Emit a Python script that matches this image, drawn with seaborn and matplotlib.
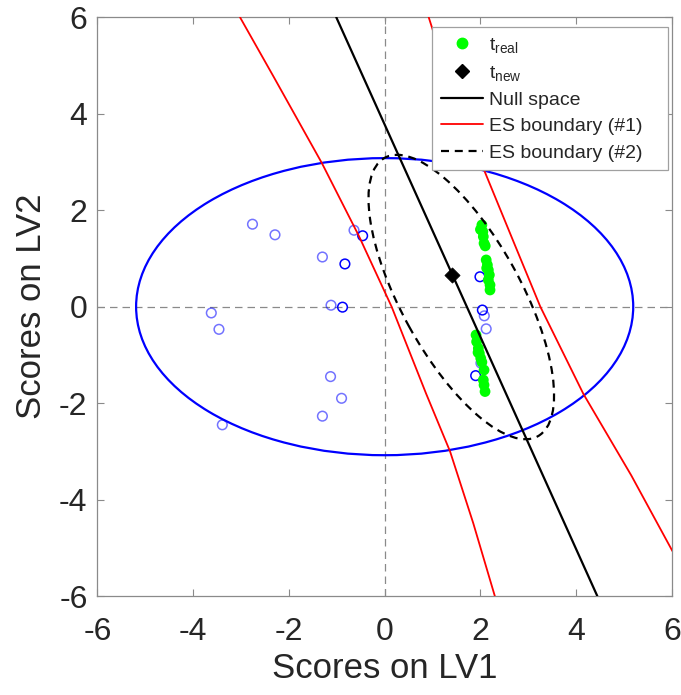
import numpy as np
import pandas as pd
import matplotlib
matplotlib.use("Agg")
import matplotlib.pyplot as plt
import seaborn as sns
from matplotlib.patches import Ellipse
from matplotlib.lines import Line2D

# ---------------- data ----------------
real_x = [2.03, 2.05, 2.06, 2.075, 2.00, 2.10, 2.12, 2.145, 2.165, 2.186, 2.165, 2.20, 2.20, 2.13,
          1.908, 1.92, 1.956, 1.977, 2.006, 2.075, 2.06, 2.075, 2.096, 1.95, 2.03]
real_y = [1.695, 1.556, 1.452, 1.315, 1.60, 1.26, 0.969, 0.865, 0.761, 0.658, 0.554, 0.45, 0.346, 0.80,
          -0.587, -0.726, -0.863, -0.967, -1.07, -1.313, -1.52, -1.624, -1.76, -0.95, -1.15]

new_x = [1.41]
new_y = [0.66]

cal_light_x = [-2.76, -2.29, -1.30, -0.64, -1.12, -3.62, -3.46, -1.13, -0.90, -1.30, -3.39, 2.08, 2.12, 2.01]
cal_light_y = [1.71, 1.49, 1.03, 1.585, 0.03, -0.13, -0.47, -1.45, -1.90, -2.27, -2.45, -0.19, -0.46, -1.17]
cal_dark_x = [-0.46, -0.83, -0.88, 1.99, 2.04, 1.90]
cal_dark_y = [1.47, 0.886, -0.01, 0.62, -0.07, -1.43]

null_x = [-1.01, 4.44]
null_y = [6.0, -6.0]

es1_left_x = [-3.02, -2.32, -1.31, -0.54, 0.145, 0.864, 1.365, 1.85, 2.30]
es1_left_y = [6.0, 4.77, 2.975, 1.47, 0.0, -1.80, -3.0, -4.49, -6.0]
es1_right_x = [0.92, 1.465, 2.075, 2.71, 3.25, 4.15, 5.15, 6.01]
es1_right_y = [6.0, 4.3, 2.835, 1.3, 0.0, -1.81, -3.5, -5.07]

limit_center = (0.0, 0.0)
limit_semi_x = 5.19
limit_semi_y = 3.08

es2_center = (1.60, 0.20)
es2_semi_major = 3.30
es2_semi_minor = 1.25
es2_angle = -61.0

tick_values = [-6, -4, -2, 0, 2, 4, 6]
tick_labels = ["-6", "-4", "-2", "0", "2", "4", "6"]

# ---------------- style ----------------
sns.set_theme(style="white")
plt.rcParams["font.family"] = ["Liberation Sans", "DejaVu Sans"]
plt.rcParams["mathtext.fontset"] = "custom"
plt.rcParams["mathtext.rm"] = "Liberation Sans"
plt.rcParams["mathtext.it"] = "Liberation Sans"
plt.rcParams["axes.unicode_minus"] = False

fig = plt.figure(figsize=(6.81, 6.95), dpi=100)
ax = fig.add_axes([0.1429, 0.1424, 0.8439, 0.8327])

grey = "#8a8a8a"
ax.axhline(0, color=grey, lw=0.9, ls=(0, (6, 4)), zorder=1)
ax.axvline(0, color=grey, lw=0.9, ls=(0, (6, 4)), zorder=1)

sns.scatterplot(x=cal_light_x, y=cal_light_y, ax=ax, s=48, color="#0000ff",
                facecolor="none", edgecolor="#0000ff", linewidth=1.1, alpha=0.55, zorder=2)
sns.scatterplot(x=cal_dark_x, y=cal_dark_y, ax=ax, s=48, color="#0000ff",
                facecolor="none", edgecolor="#0000ff", linewidth=1.1, zorder=2)

ax.add_patch(Ellipse(limit_center, 2 * limit_semi_x, 2 * limit_semi_y, angle=0,
                     fill=False, edgecolor="#0000ff", lw=1.6, zorder=3))

sns.scatterplot(x=real_x, y=real_y, ax=ax, s=60, color="#00ff00", edgecolor="none",
                linewidth=0, zorder=4)
sns.scatterplot(x=new_x, y=new_y, ax=ax, s=60, marker="D", color="black",
                edgecolor="black", linewidth=0.5, zorder=6)

sns.lineplot(x=null_x, y=null_y, ax=ax, sort=False, estimator=None, color="black", lw=1.6, zorder=5)
sns.lineplot(x=es1_left_x, y=es1_left_y, ax=ax, sort=False, estimator=None, color="#ff0000", lw=1.3, zorder=5)
sns.lineplot(x=es1_right_x, y=es1_right_y, ax=ax, sort=False, estimator=None, color="#ff0000", lw=1.3, zorder=5)

ax.add_patch(Ellipse(es2_center, 2 * es2_semi_major, 2 * es2_semi_minor, angle=es2_angle,
                     fill=False, edgecolor="black", lw=1.6, ls=(0, (3.6, 2.6)), zorder=5))

ax.set_xlim(-6, 6)
ax.set_ylim(-6, 6)
ax.set_xticks(tick_values)
ax.set_xticklabels(tick_labels)
ax.set_yticks(tick_values)
ax.set_yticklabels(tick_labels)

for sp in ax.spines.values():
    sp.set_visible(True)
    sp.set_color(grey)
    sp.set_linewidth(0.9)

ax.tick_params(axis="both", which="both", direction="in", length=5, width=0.8, color=grey,
               top=True, right=True, bottom=True, left=True, labelsize=23, labelcolor="#262626")
ax.tick_params(axis="x", pad=15)
ax.tick_params(axis="y", pad=7)

ax.set_xlabel("Scores on LV1", fontsize=25, color="#262626", labelpad=4)
ax.set_ylabel("Scores on LV2", fontsize=25, color="#262626", labelpad=8)

handles = [
    Line2D([], [], ls="none", marker="o", markersize=7.5, color="#00ff00", markeredgecolor="#00ff00"),
    Line2D([], [], ls="none", marker="D", markersize=7, color="black"),
    Line2D([], [], color="black", lw=1.6),
    Line2D([], [], color="#ff0000", lw=1.3),
    Line2D([], [], color="black", lw=1.6, ls=(0, (3.6, 2.6))),
]
labels = [r"$\mathregular{t_{real}}$", r"$\mathregular{t_{new}}$", "Null space",
          "ES boundary (#1)", "ES boundary (#2)"]
leg_x0 = (432 - 97.3) / 574.7
leg_w = (668 - 432) / 574.7
leg_top = (596 - 27) / 578.7
leg = ax.legend(handles, labels, loc="upper left", bbox_to_anchor=(leg_x0, leg_top - 0.3, leg_w, 0.3),
                mode="expand", borderaxespad=0, fontsize=14, frameon=True, fancybox=False,
                framealpha=1, edgecolor="#a0a0a0", handlelength=2.15, handletextpad=0.33,
                labelspacing=0.45, borderpad=0.45)
leg.get_frame().set_linewidth(0.9)
for t in leg.get_texts():
    t.set_color("#262626")

fig.savefig("out.png", dpi=100)
